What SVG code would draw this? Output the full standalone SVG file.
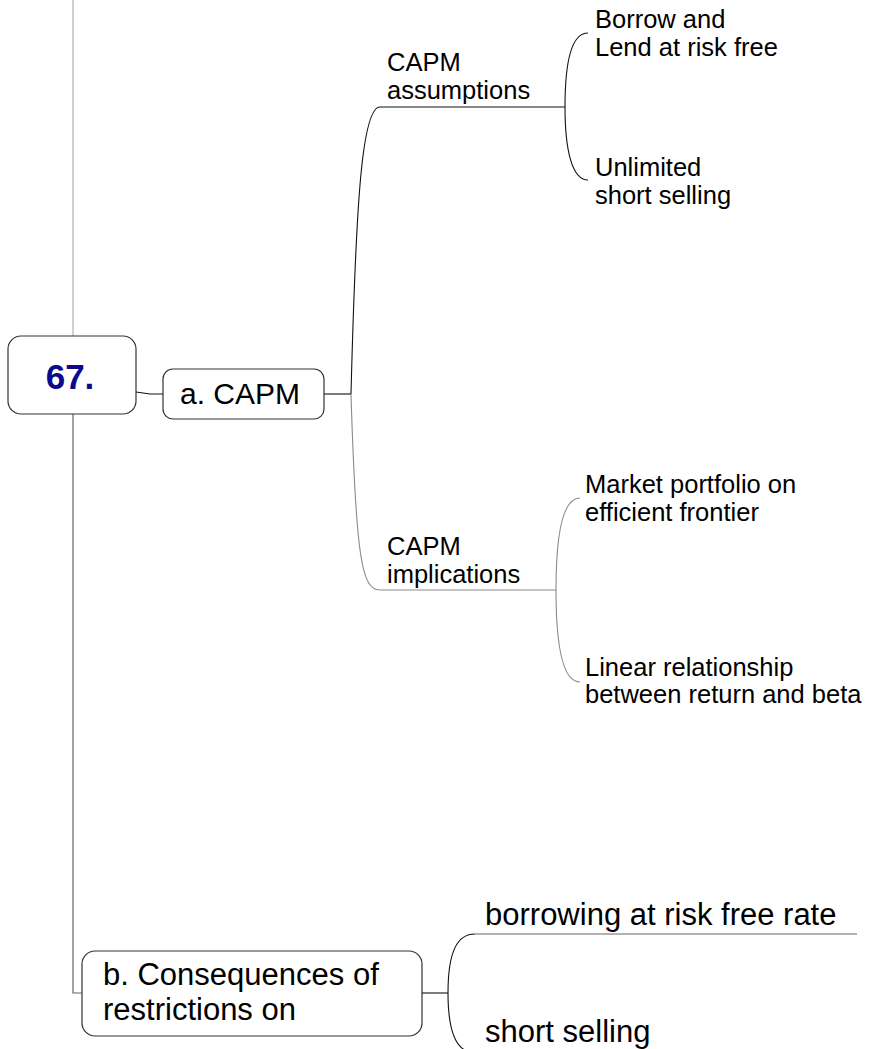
<svg xmlns="http://www.w3.org/2000/svg" width="871" height="1049" viewBox="0 0 871 1049">
<style>
.bg{fill:#ffffff}
.box{fill:#ffffff;stroke:#333333;stroke-width:1.2}
.t{font-family:"Liberation Sans",Arial,sans-serif;fill:#000000}
.s{font-size:25.5px}
.m{font-size:30px}
.l{font-size:31px}
.root{font-family:"Liberation Sans",Arial,sans-serif;font-size:35px;font-weight:bold;fill:#0a0a8c}
.k{fill:none;stroke:#111111;stroke-width:1.1}
.g{fill:none;stroke:#8a8a8a;stroke-width:1.1}
.lg{fill:none;stroke:#b0b0b0;stroke-width:1.2}
.dg{fill:none;stroke:#666666;stroke-width:1.2}
</style>
<rect class="bg" x="0" y="0" width="871" height="1049"/>
<g id="connectors">
<path class="lg" d="M73 0 V336"/>
<path class="dg" d="M73 414 V993 H82"/>
<path class="k" d="M136 392 L150 394 H163"/>
<path class="k" d="M324 394 H351"/>
<path class="k" d="M351 394 C356 200 362 107 380 107 H565"/>
<path class="g" d="M351 394 C356 560 362 590 380 590 H556"/>
<path class="k" d="M565 107 C565 60 572 33 588 33"/>
<path class="k" d="M565 107 C565 150 572 180 588 180"/>
<path class="g" d="M556 590 C556 530 564 498 580 498"/>
<path class="g" d="M556 590 C556 650 564 682 580 682"/>
<path class="k" d="M422 993 H448"/>
<path class="k" d="M448 993 C448 950 458 934 475 934"/>
<path class="dg" d="M475 934 H857"/>
<path class="k" d="M448 993 C448 1030 455 1049 470 1052"/>
</g>
<g id="node-67">
<rect class="box" x="8" y="336" width="128" height="78" rx="13"/>
<text class="root" x="70" y="389" text-anchor="middle">67.</text>
</g>
<g id="node-a-capm">
<rect class="box" x="163" y="369" width="161" height="50" rx="10"/>
<text class="t m" x="180" y="404">a. CAPM</text>
</g>
<g id="node-capm-assumptions">
<text class="t s" x="387" y="71">CAPM</text>
<text class="t s" x="387" y="99">assumptions</text>
</g>
<g id="node-borrow-lend">
<text class="t s" x="595" y="28">Borrow and</text>
<text class="t s" x="595" y="56">Lend at risk free</text>
</g>
<g id="node-unlimited-short">
<text class="t s" x="595" y="176">Unlimited</text>
<text class="t s" x="595" y="204">short selling</text>
</g>
<g id="node-capm-implications">
<text class="t s" x="387" y="555">CAPM</text>
<text class="t s" x="387" y="583">implications</text>
</g>
<g id="node-market-portfolio">
<text class="t s" x="585" y="493">Market portfolio on</text>
<text class="t s" x="585" y="521">efficient frontier</text>
</g>
<g id="node-linear-relationship">
<text class="t s" x="585" y="676">Linear relationship</text>
<text class="t s" x="585" y="703">between return and beta</text>
</g>
<g id="node-b-consequences">
<rect class="box" x="82" y="951" width="340" height="85" rx="13"/>
<text class="t l" x="103" y="985">b. Consequences of</text>
<text class="t l" x="103" y="1020">restrictions on</text>
</g>
<g id="node-borrowing">
<text class="t l" x="485" y="925">borrowing at risk free rate</text>
</g>
<g id="node-short-selling">
<text class="t l" x="485" y="1042">short selling</text>
</g>
</svg>
